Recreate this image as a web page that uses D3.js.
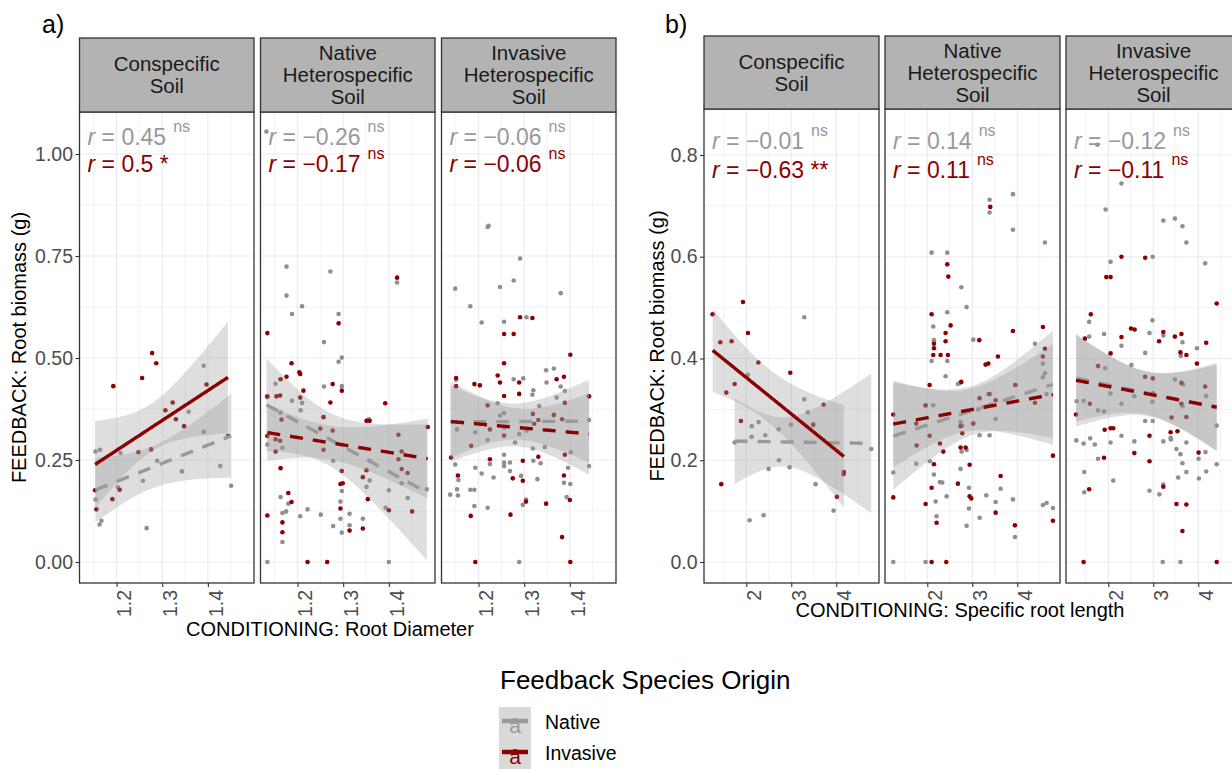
<!DOCTYPE html>
<html>
<head>
<meta charset="utf-8">
<script src="https://cdn.jsdelivr.net/npm/d3@7"></script>
<style>
  body { margin: 0; background: #fff; }
  svg { display: block; }
  text { font-family: "Liberation Sans", Arial, Helvetica, sans-serif; }
</style>
</head>
<body>
<svg id="chart" width="1232" height="769"></svg>
<script>
// ---------- facet strips ----------
const stripLabels = [
  ["Conspecific", "Soil"],
  ["Native", "Heterospecific", "Soil"],
  ["Invasive", "Heterospecific", "Soil"]
];
const groups = ["Native", "Invasive"];

// ---------- axis ticks ----------
const diamTicks = [1.2, 1.3, 1.4];
const srlTicks = [2, 3, 4];
const biomassTicksA = [0, 0.25, 0.5, 0.75, 1.0];
const biomassTicksB = [0, 0.2, 0.4, 0.6, 0.8];

// ---------- a) root diameter vs root biomass, [diameter, biomass] ----------
const diamConNative = [[1.154,0.271],[1.164,0.275],[1.209,0.267],[1.154,0.153],[1.163,0.092],[1.167,0.101],[1.266,0.083],[1.258,0.199],[1.203,0.183],[1.289,0.248],[1.343,0.222],[1.358,0.368],[1.391,0.481],[1.391,0.319],[1.427,0.235],[1.451,0.187]];
const diamConInvasive = [[1.278,0.512],[1.287,0.487],[1.193,0.431],[1.256,0.451],[1.397,0.435],[1.323,0.391],[1.307,0.372],[1.330,0.350],[1.348,0.333],[1.248,0.269],[1.276,0.276],[1.444,0.309],[1.153,0.176],[1.156,0.129],[1.191,0.154],[1.207,0.177]];
const diamNatNative = [[1.132,1.055],[1.176,0.724],[1.272,0.712],[1.418,0.685],[1.176,0.653],[1.210,0.627],[1.188,0.608],[1.290,0.608],[1.258,0.539],[1.290,0.491],[1.297,0.501],[1.134,0.404],[1.152,0.437],[1.258,0.430],[1.297,0.431],[1.188,0.395],[1.210,0.390],[1.207,0.372],[1.163,0.366],[1.134,0.288],[1.167,0.280],[1.358,0.248],[1.278,0.248],[1.356,0.350],[1.358,0.200],[1.351,0.184],[1.428,0.193],[1.400,0.176],[1.441,0.157],[1.483,0.178],[1.163,0.159],[1.180,0.143],[1.175,0.124],[1.167,0.120],[1.206,0.112],[1.222,0.129],[1.251,0.116],[1.278,0.088],[1.294,0.106],[1.294,0.148],[1.297,0.174],[1.297,0.072],[1.314,0.118],[1.314,0.090],[1.343,0.106],[1.393,0.133],[1.134,0.000],[1.400,0.000],[1.167,0.049]];
const diamNatInvasive = [[1.418,0.697],[1.290,0.585],[1.134,0.561],[1.187,0.487],[1.204,0.465],[1.206,0.461],[1.176,0.454],[1.163,0.448],[1.277,0.436],[1.297,0.420],[1.213,0.420],[1.162,0.408],[1.154,0.406],[1.134,0.406],[1.206,0.403],[1.272,0.391],[1.392,0.389],[1.257,0.355],[1.165,0.349],[1.358,0.346],[1.351,0.346],[1.485,0.331],[1.134,0.309],[1.277,0.322],[1.250,0.327],[1.162,0.297],[1.152,0.301],[1.152,0.271],[1.257,0.275],[1.421,0.312],[1.428,0.271],[1.421,0.252],[1.428,0.228],[1.441,0.218],[1.163,0.230],[1.297,0.223],[1.351,0.225],[1.343,0.208],[1.294,0.191],[1.299,0.193],[1.354,0.154],[1.180,0.169],[1.187,0.147],[1.294,0.131],[1.400,0.127],[1.451,0.124],[1.134,0.114],[1.167,0.097],[1.167,0.073],[1.314,0.077],[1.343,0.082],[1.222,0.000],[1.265,0.000]];
const diamInvNative = [[1.220,0.821],[1.222,0.824],[1.291,0.744],[1.149,0.670],[1.277,0.690],[1.247,0.674],[1.380,0.659],[1.182,0.627],[1.207,0.587],[1.256,0.589],[1.305,0.600],[1.151,0.447],[1.193,0.318],[1.153,0.325],[1.220,0.299],[1.242,0.389],[1.247,0.359],[1.256,0.365],[1.277,0.448],[1.298,0.450],[1.320,0.421],[1.318,0.410],[1.333,0.382],[1.349,0.440],[1.348,0.470],[1.365,0.474],[1.371,0.403],[1.380,0.430],[1.389,0.419],[1.365,0.359],[1.442,0.348],[1.442,0.235],[1.256,0.329],[1.256,0.263],[1.256,0.244],[1.256,0.235],[1.233,0.207],[1.225,0.240],[1.269,0.244],[1.269,0.223],[1.280,0.293],[1.289,0.314],[1.293,0.211],[1.305,0.322],[1.319,0.278],[1.320,0.248],[1.336,0.242],[1.345,0.282],[1.329,0.203],[1.297,0.140],[1.304,0.153],[1.220,0.133],[1.191,0.137],[1.182,0.177],[1.191,0.177],[1.193,0.231],[1.207,0.217],[1.149,0.239],[1.156,0.201],[1.153,0.178],[1.155,0.163],[1.138,0.165],[1.387,0.194],[1.393,0.159],[1.401,0.191],[1.396,0.231],[1.402,0.269],[1.289,0.000]];
const diamInvInvasive = [[1.291,0.600],[1.318,0.598],[1.256,0.559],[1.277,0.559],[1.401,0.508],[1.256,0.487],[1.151,0.451],[1.151,0.431],[1.191,0.436],[1.203,0.433],[1.242,0.457],[1.247,0.440],[1.289,0.440],[1.256,0.407],[1.289,0.412],[1.371,0.448],[1.387,0.454],[1.389,0.390],[1.442,0.406],[1.220,0.384],[1.256,0.310],[1.225,0.325],[1.319,0.363],[1.322,0.339],[1.365,0.361],[1.383,0.350],[1.331,0.348],[1.331,0.258],[1.184,0.285],[1.140,0.256],[1.225,0.252],[1.155,0.212],[1.275,0.205],[1.297,0.199],[1.297,0.248],[1.389,0.263],[1.387,0.212],[1.400,0.152],[1.304,0.148],[1.348,0.143],[1.183,0.113],[1.270,0.116],[1.383,0.061],[1.193,0.000],[1.401,0.000]];

// ---------- b) specific root length vs root biomass, [SRL, biomass] ----------
const srlConNative = [[3.289,0.481],[2.037,0.368],[3.289,0.320],[3.370,0.294],[2.119,0.267],[2.274,0.275],[2.119,0.246],[2.422,0.249],[2.719,0.261],[2.993,0.270],[1.741,0.235],[2.496,0.183],[2.726,0.200],[2.963,0.186],[3.541,0.153],[2.074,0.082],[2.385,0.092],[3.941,0.101],[4.778,0.222]];
const srlConInvasive = [[1.252,0.487],[1.926,0.511],[2.037,0.450],[1.422,0.432],[1.674,0.434],[2.267,0.392],[1.556,0.333],[1.741,0.350],[2.978,0.372],[1.881,0.277],[3.719,0.309],[3.489,0.270],[1.444,0.153],[4.015,0.128],[4.163,0.173],[4.170,0.177]];
const srlNatNative = [[3.385,0.712],[3.385,0.687],[3.904,0.723],[3.904,0.653],[4.615,0.628],[2.096,0.608],[2.444,0.608],[2.756,0.540],[2.874,0.501],[2.444,0.491],[2.133,0.463],[2.148,0.436],[2.148,0.433],[2.096,0.395],[3.022,0.437],[2.444,0.395],[2.407,0.365],[2.681,0.350],[2.726,0.352],[4.393,0.429],[4.570,0.390],[4.615,0.371],[4.570,0.363],[4.650,0.330],[2.133,0.308],[1.963,0.307],[3.133,0.300],[3.356,0.330],[3.948,0.348],[2.740,0.275],[2.778,0.268],[3.519,0.281],[3.163,0.249],[3.385,0.249],[1.244,0.176],[1.756,0.193],[2.059,0.198],[2.148,0.172],[2.281,0.157],[2.333,0.156],[2.185,0.119],[2.430,0.129],[2.207,0.090],[2.740,0.183],[2.874,0.220],[2.763,0.217],[2.926,0.146],[2.926,0.105],[2.874,0.071],[3.163,0.087],[3.311,0.131],[3.519,0.118],[3.630,0.144],[3.904,0.123],[3.948,0.049],[4.570,0.112],[4.652,0.116],[4.793,0.106],[1.244,0.000],[1.963,0.000]];
const srlNatInvasive = [[3.400,0.698],[2.444,0.585],[2.467,0.561],[2.096,0.487],[2.519,0.465],[2.407,0.450],[2.148,0.420],[2.148,0.429],[2.407,0.434],[2.133,0.407],[2.296,0.407],[2.459,0.407],[3.156,0.436],[3.904,0.454],[4.570,0.462],[4.615,0.419],[4.570,0.404],[3.570,0.404],[3.296,0.388],[3.356,0.390],[2.756,0.354],[2.052,0.348],[3.963,0.348],[3.163,0.322],[3.385,0.330],[3.519,0.318],[1.963,0.308],[1.244,0.290],[4.393,0.313],[1.756,0.272],[3.022,0.272],[2.740,0.267],[2.052,0.248],[2.778,0.253],[1.763,0.229],[2.281,0.233],[2.356,0.217],[2.740,0.225],[2.852,0.225],[2.148,0.192],[2.941,0.191],[2.681,0.154],[2.096,0.146],[2.941,0.129],[2.978,0.125],[3.630,0.169],[1.244,0.127],[1.963,0.114],[3.519,0.097],[2.207,0.077],[3.948,0.072],[4.793,0.209],[4.793,0.081],[2.096,0.000],[2.422,0.000]];
const srlInvNative = [[1.758,0.820],[2.293,0.744],[1.941,0.693],[3.223,0.671],[3.480,0.675],[3.648,0.660],[3.736,0.628],[2.051,0.590],[2.989,0.600],[4.154,0.587],[1.575,0.472],[1.575,0.443],[1.905,0.448],[2.982,0.475],[2.916,0.450],[3.223,0.445],[2.293,0.425],[2.820,0.411],[3.648,0.432],[3.612,0.405],[3.971,0.420],[4.176,0.326],[2.513,0.387],[1.927,0.381],[1.297,0.316],[1.451,0.317],[1.773,0.298],[1.905,0.296],[2.051,0.331],[2.293,0.311],[2.579,0.326],[2.982,0.315],[3.480,0.359],[3.663,0.349],[3.648,0.306],[2.820,0.277],[2.989,0.277],[1.289,0.239],[1.451,0.233],[1.597,0.243],[1.700,0.231],[1.773,0.203],[2.051,0.235],[2.293,0.248],[2.579,0.237],[3.223,0.237],[3.392,0.241],[3.385,0.244],[3.516,0.222],[3.604,0.212],[3.648,0.194],[3.736,0.235],[3.736,0.177],[3.553,0.166],[4.007,0.203],[4.161,0.216],[4.176,0.178],[4.015,0.164],[4.410,0.268],[4.410,0.192],[1.465,0.177],[1.465,0.137],[2.110,0.160],[2.916,0.140],[3.136,0.133],[3.223,0.152],[3.209,0.000],[3.604,0.000]];
const srlInvInvasive = [[2.293,0.600],[2.820,0.598],[1.956,0.560],[2.051,0.560],[4.410,0.508],[1.612,0.487],[1.480,0.439],[2.051,0.410],[2.293,0.442],[2.505,0.459],[2.586,0.457],[3.128,0.434],[3.223,0.452],[3.480,0.443],[3.626,0.448],[3.604,0.412],[3.736,0.407],[4.176,0.431],[3.971,0.390],[1.773,0.385],[2.820,0.364],[2.989,0.361],[3.626,0.352],[1.590,0.311],[1.282,0.290],[4.154,0.345],[2.989,0.331],[3.407,0.284],[3.736,0.285],[3.626,0.311],[1.919,0.260],[2.051,0.263],[2.110,0.263],[2.916,0.248],[3.385,0.255],[3.538,0.257],[1.905,0.205],[2.579,0.214],[2.916,0.198],[4.007,0.215],[1.575,0.143],[3.223,0.148],[3.516,0.114],[3.736,0.113],[3.648,0.061],[1.451,0.000],[4.410,0.000]];

// ---------- correlation labels (per soil panel) ----------
const diamRNative = ["0.45", "\u22120.26", "\u22120.06"];
const diamSigNative = ["ns", "ns", "ns"];
const diamRInvasive = ["0.5", "\u22120.17", "\u22120.06"];
const diamSigInvasive = ["*", "ns", "ns"];
const srlRNative = ["\u22120.01", "0.14", "\u22120.12"];
const srlSigNative = ["ns", "ns", "ns"];
const srlRInvasive = ["\u22120.63", "0.11", "\u22120.11"];
const srlSigInvasive = ["**", "ns", "ns"];

// ---------- styling ----------
const colNativePt = "#8f8f8f", colNativeLine = "#9a9a9a", colNativeText = "#999999";
const colInv = "#8b0000";
const svg = d3.select("#chart");

// Student t quantile (97.5%) via Cornish-Fisher expansion
function tQuant(df) {
  const z = 1.959964;
  const g1 = (z ** 3 + z) / 4;
  const g2 = (5 * z ** 5 + 16 * z ** 3 + 3 * z) / 96;
  const g3 = (3 * z ** 7 + 19 * z ** 5 + 17 * z ** 3 - 15 * z) / 384;
  return z + g1 / df + g2 / df ** 2 + g3 / df ** 3;
}

// ordinary least squares fit with 95% confidence band over the data range
function lmBand(pts) {
  const n = pts.length;
  const mx = d3.mean(pts, d => d[0]), my = d3.mean(pts, d => d[1]);
  let sxx = 0, sxy = 0;
  pts.forEach(([x, y]) => { sxx += (x - mx) ** 2; sxy += (x - mx) * (y - my); });
  const b = sxy / sxx, a = my - b * mx;
  let sse = 0;
  pts.forEach(([x, y]) => { sse += (y - a - b * x) ** 2; });
  const s = Math.sqrt(sse / (n - 2)), t = tQuant(n - 2);
  const [x0, x1] = d3.extent(pts, d => d[0]);
  return d3.range(80).map(i => {
    const x = x0 + (x1 - x0) * i / 79;
    const f = a + b * x;
    const se = s * Math.sqrt(1 / n + (x - mx) ** 2 / sxx);
    return { x, f, lo: f - t * se, hi: f + t * se };
  });
}

function drawFigure(cfg) {
  const root = svg.append("g");
  const y = d3.scaleLinear().domain(cfg.yDomain).range([cfg.plotBottom, cfg.plotTop]);

  cfg.panelsX.forEach((px, i) => {
    const x = d3.scaleLinear().domain(cfg.xDomain).range([px, px + cfg.panelW]);
    const g = root.append("g");
    const clipId = `clip-${cfg.id}-${i}`;
    g.append("clipPath").attr("id", clipId).append("rect")
      .attr("x", px).attr("y", cfg.plotTop).attr("width", cfg.panelW).attr("height", cfg.plotBottom - cfg.plotTop);

    // grid
    const grid = g.append("g");
    grid.selectAll(".ymin").data(cfg.yMinor).join("line")
      .attr("x1", px).attr("x2", px + cfg.panelW).attr("y1", d => y(d)).attr("y2", d => y(d))
      .attr("stroke", "#ebebeb").attr("stroke-width", 0.6);
    grid.selectAll(".xmin").data(cfg.xMinor).join("line")
      .attr("y1", cfg.plotTop).attr("y2", cfg.plotBottom).attr("x1", d => x(d)).attr("x2", d => x(d))
      .attr("stroke", "#ebebeb").attr("stroke-width", 0.6);
    grid.selectAll(".ymaj").data(cfg.yTicks).join("line")
      .attr("x1", px).attr("x2", px + cfg.panelW).attr("y1", d => y(d)).attr("y2", d => y(d))
      .attr("stroke", "#ebebeb").attr("stroke-width", 1.2);
    grid.selectAll(".xmaj").data(cfg.xTicks).join("line")
      .attr("y1", cfg.plotTop).attr("y2", cfg.plotBottom).attr("x1", d => x(d)).attr("x2", d => x(d))
      .attr("stroke", "#ebebeb").attr("stroke-width", 1.2);

    const body = g.append("g").attr("clip-path", `url(#${clipId})`);
    const sets = [cfg.series[i][0], cfg.series[i][1]];
    const ptCols = [colNativePt, colInv];
    const lineCols = [colNativeLine, colInv];

    // points
    sets.forEach((pts, k) => {
      body.append("g").selectAll("circle").data(pts).join("circle")
        .attr("cx", d => x(d[0])).attr("cy", d => y(d[1])).attr("r", 2.3)
        .attr("fill", ptCols[k]);
    });

    // fitted lines with confidence bands
    const fits = sets.map(lmBand);
    fits.forEach(fit => {
      body.append("path").datum(fit)
        .attr("d", d3.area().x(d => x(d.x)).y0(d => y(d.lo)).y1(d => y(d.hi)))
        .attr("fill", "#999999").attr("fill-opacity", 0.32);
    });
    fits.forEach((fit, k) => {
      const sig = cfg.sig[k][i] !== "ns";
      body.append("path").datum(fit)
        .attr("d", d3.line().x(d => x(d.x)).y(d => y(d.f)))
        .attr("fill", "none").attr("stroke", lineCols[k]).attr("stroke-width", 3.4)
        .attr("stroke-dasharray", sig ? null : "13,10");
    });

    // correlation labels
    const textCols = [colNativeText, colInv];
    [0, 1].forEach(k => {
      const t = g.append("text").attr("x", px + 8).attr("y", cfg.labelY[k])
        .attr("fill", textCols[k]).style("font-size", "23px");
      t.append("tspan").style("font-style", "italic").text("r");
      t.append("tspan").text(" = " + cfg.rVals[k][i]);
      const s = cfg.sig[k][i];
      if (s === "ns") {
        t.append("tspan").attr("dx", 7).attr("dy", -13).style("font-size", "16px").text(s);
      } else {
        t.append("tspan").text(" " + s);
      }
    });

    // panel border
    g.append("rect").attr("x", px).attr("y", cfg.plotTop).attr("width", cfg.panelW)
      .attr("height", cfg.plotBottom - cfg.plotTop).attr("fill", "none")
      .attr("stroke", "#333").attr("stroke-width", 1.3);

    // strip
    g.append("rect").attr("x", px).attr("y", cfg.stripTop).attr("width", cfg.panelW)
      .attr("height", cfg.plotTop - cfg.stripTop).attr("fill", "#b3b3b3")
      .attr("stroke", "#333").attr("stroke-width", 1.3);
    const lines = stripLabels[i];
    const cy = (cfg.stripTop + cfg.plotTop) / 2;
    g.append("g").selectAll("text").data(lines).join("text")
      .attr("x", px + cfg.panelW / 2)
      .attr("y", (d, j) => cy + (j - (lines.length - 1) / 2) * 22)
      .attr("dy", "0.36em").attr("text-anchor", "middle")
      .attr("fill", "#1a1a1a").style("font-size", "20.5px").text(d => d);

    // x axis
    const xa = g.append("g").attr("transform", `translate(0,${cfg.plotBottom})`)
      .call(d3.axisBottom(x).tickValues(cfg.xTicks).tickSize(4).tickFormat(cfg.xFmt));
    xa.select(".domain").remove();
    xa.selectAll(".tick line").attr("stroke", "#333").attr("stroke-width", 1.1);
    xa.selectAll(".tick text")
      .attr("transform", "rotate(-90)").attr("x", -7).attr("y", 0).attr("dy", "0.74em")
      .attr("text-anchor", "end").attr("fill", "#4d4d4d")
      .style("font-size", "19.5px").style("font-family", "'Liberation Sans', Arial, sans-serif");

    // y axis on the first panel
    if (i === 0) {
      const ya = g.append("g").attr("transform", `translate(${px},0)`)
        .call(d3.axisLeft(y).tickValues(cfg.yTicks).tickSize(4).tickPadding(2.5).tickFormat(cfg.yFmt));
      ya.select(".domain").remove();
      ya.selectAll(".tick line").attr("stroke", "#333").attr("stroke-width", 1.1);
      ya.selectAll(".tick text").attr("fill", "#4d4d4d")
        .style("font-size", "19.5px").style("font-family", "'Liberation Sans', Arial, sans-serif");
    }
  });

  // axis titles
  root.append("text")
    .attr("transform", `translate(${cfg.yTitleX},${(cfg.plotTop + cfg.plotBottom) / 2}) rotate(-90)`)
    .attr("text-anchor", "middle").attr("fill", "#000").style("font-size", "20px")
    .text("FEEDBACK: Root biomass (g)");
  root.append("text").attr("x", cfg.xTitleX).attr("y", cfg.xTitleY)
    .attr("text-anchor", "middle").attr("fill", "#000").style("font-size", "20px")
    .text(cfg.xTitle);
  root.append("text").attr("x", cfg.tagX).attr("y", 33)
    .attr("fill", "#000").style("font-size", "25px").text(cfg.tag);
}

drawFigure({
  id: "a", tag: "a)", tagX: 42,
  xDomain: [1.119, 1.501], yDomain: [-0.0515, 1.103],
  panelsX: [79.5, 260.5, 441.5], panelW: 174.5,
  stripTop: 38, plotTop: 112, plotBottom: 583,
  xTicks: diamTicks, xMinor: [1.15, 1.25, 1.35, 1.45],
  yTicks: biomassTicksA, yMinor: [0.125, 0.375, 0.625, 0.875],
  xFmt: d3.format(".1f"), yFmt: d3.format(".2f"),
  series: [[diamConNative, diamConInvasive], [diamNatNative, diamNatInvasive], [diamInvNative, diamInvInvasive]],
  rVals: [diamRNative, diamRInvasive], sig: [diamSigNative, diamSigInvasive],
  labelY: [145, 172],
  yTitleX: 26, xTitleX: 330, xTitleY: 636, xTitle: "CONDITIONING: Root Diameter"
});

drawFigure({
  id: "b", tag: "b)", tagX: 665,
  xDomain: [1.06, 4.95], yDomain: [-0.0413, 0.8904],
  panelsX: [704, 885, 1066], panelW: 175,
  stripTop: 36, plotTop: 109, plotBottom: 583,
  xTicks: srlTicks, xMinor: [1.5, 2.5, 3.5, 4.5],
  yTicks: biomassTicksB, yMinor: [0.1, 0.3, 0.5, 0.7],
  xFmt: d3.format("d"), yFmt: d3.format(".1f"),
  series: [[srlConNative, srlConInvasive], [srlNatNative, srlNatInvasive], [srlInvNative, srlInvInvasive]],
  rVals: [srlRNative, srlRInvasive], sig: [srlSigNative, srlSigInvasive],
  labelY: [149, 178],
  yTitleX: 664, xTitleX: 960, xTitleY: 617, xTitle: "CONDITIONING: Specific root length"
});

// ---------- legend ----------
const legend = svg.append("g");
legend.append("text").attr("x", 500).attr("y", 689).attr("fill", "#000")
  .style("font-size", "26px").text("Feedback Species Origin");
const keyCols = [colNativeLine, colInv];
groups.forEach((name, k) => {
  const ky = 707 + k * 31;
  legend.append("rect").attr("x", 499).attr("y", ky).attr("width", 32).attr("height", 31)
    .attr("fill", "#d9d9d9");
  legend.append("line").attr("x1", 502).attr("x2", 528).attr("y1", ky + 14).attr("y2", ky + 14)
    .attr("stroke", keyCols[k]).attr("stroke-width", 4.5);
  legend.append("circle").attr("cx", 515).attr("cy", ky + 14).attr("r", 3).attr("fill", keyCols[k]);
  legend.append("text").attr("x", 515).attr("y", ky + 26).attr("text-anchor", "middle")
    .attr("fill", keyCols[k]).style("font-size", "21px").text("a");
  legend.append("text").attr("x", 545).attr("y", ky + 22).attr("fill", "#000")
    .style("font-size", "19.5px").text(name);
});
</script>
</body>
</html>
